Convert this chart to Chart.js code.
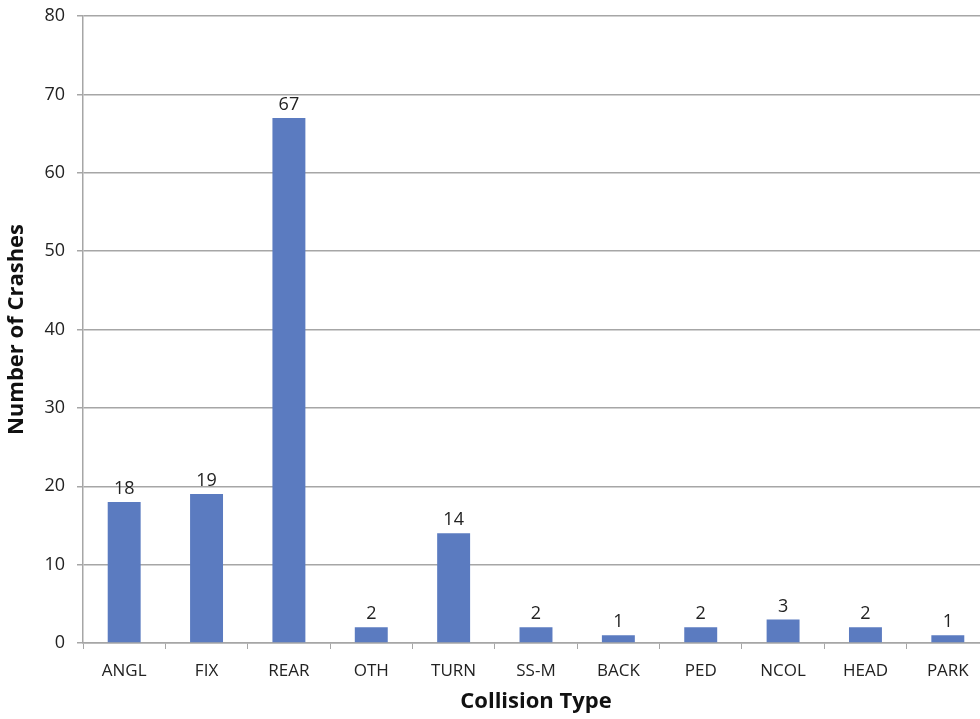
<!DOCTYPE html>
<html>
<head>
<meta charset="utf-8">
<script src="https://cdn.jsdelivr.net/npm/chart.js@4"></script>
<style>
  html, body { margin: 0; padding: 0; background: #fff; overflow: hidden; }
  #wrap { position: absolute; left: 0; top: 0; width: 992px; height: 719px; }
</style>
</head>
<body>
<div id="wrap"><canvas id="crash-chart"></canvas></div>
<script>
const categories = ['ANGL', 'FIX', 'REAR', 'OTH', 'TURN', 'SS-M', 'BACK', 'PED', 'NCOL', 'HEAD', 'PARK'];
const crashCounts = [18, 19, 67, 2, 14, 2, 1, 2, 3, 2, 1];
const yTicks = [0, 10, 20, 30, 40, 50, 60, 70, 80];

const barColor = 'rgb(91, 123, 192)';
const lineColor = '#a6a6a6';

// etiquetas de valor encima de cada barra
const valueLabels = {
    id: 'valueLabels',
    afterDatasetsDraw(chart) {
        const ctx = chart.ctx;
        const meta = chart.getDatasetMeta(0);
        ctx.save();
        ctx.font = '18px "Open Sans"';
        ctx.fillStyle = '#222';
        ctx.textAlign = 'center';
        ctx.textBaseline = 'bottom';
        meta.data.forEach((bar, i) => {
            ctx.fillText(String(crashCounts[i]), bar.x, bar.y - 4);
        });
        ctx.restore();
    }
};

new Chart(document.getElementById('crash-chart'), {
    type: 'bar',
    data: {
        labels: categories,
        datasets: [{
            label: 'Number of Crashes',
            data: crashCounts,
            backgroundColor: barColor,
            barPercentage: 0.8,
            categoryPercentage: 0.5
        }]
    },
    options: {
        responsive: true,
        maintainAspectRatio: false,
        animation: false,
        layout: { padding: { top: 16, right: 3, left: 0, bottom: 0 } },
        plugins: {
            legend: { display: false },
            tooltip: { enabled: false }
        },
        scales: {
            x: {
                grid: {
                    drawOnChartArea: false,
                    drawTicks: true,
                    tickLength: 6,
                    color: lineColor,
                    offset: true
                },
                border: { color: lineColor, width: 1.5 },
                ticks: {
                    color: '#222',
                    font: { family: '"Open Sans"', size: 17 },
                    padding: 12,
                    maxRotation: 0
                },
                title: {
                    display: true,
                    text: 'Collision Type',
                    color: '#111',
                    font: { family: '"Open Sans"', size: 22, weight: 'bold' },
                    padding: { top: 8 }
                },
                afterFit(scale) { scale.height = 76; }
            },
            y: {
                min: 0,
                max: 80,
                afterBuildTicks(scale) {
                    scale.ticks = yTicks.map(v => ({ value: v }));
                },
                grid: {
                    color: lineColor,
                    lineWidth: 1.5,
                    tickLength: 6
                },
                border: { color: lineColor, width: 1.5 },
                ticks: {
                    color: '#222',
                    font: { family: '"Open Sans"', size: 18 },
                    padding: 12
                },
                title: {
                    display: true,
                    text: 'Number of Crashes',
                    color: '#111',
                    font: { family: '"Open Sans"', size: 22, weight: 'bold' },
                    padding: { bottom: 2 }
                },
                afterFit(scale) {
                    scale.width = 83;
                    scale.paddingTop = 0;
                    scale.paddingBottom = 0;
                }
            }
        }
    },
    plugins: [valueLabels]
});
</script>
</body>
</html>
